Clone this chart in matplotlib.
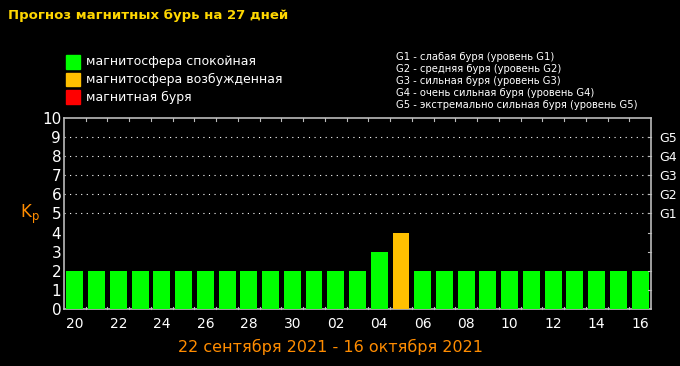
import matplotlib
matplotlib.use("Agg")
import matplotlib.pyplot as plt
import numpy as np

# data
days = ["20", "21", "22", "23", "24", "25", "26", "27", "28", "29", "30",
        "01", "02", "03", "04", "05", "06", "07", "08", "09", "10",
        "11", "12", "13", "14", "15", "16"]
kp = [2, 2, 2, 2, 2, 2, 2, 2, 2, 2, 2, 2, 2, 2, 3, 4,
      2, 2, 2, 2, 2, 2, 2, 2, 2, 2, 2]
levels = ["G1", "G2", "G3", "G4", "G5"]
level_kp = [5, 6, 7, 8, 9]
legend_left = ["магнитосфера спокойная", "магнитосфера возбужденная", "магнитная буря"]
legend_right = ["G1 - слабая буря (уровень G1)",
                "G2 - средняя буря (уровень G2)",
                "G3 - сильная буря (уровень G3)",
                "G4 - очень сильная буря (уровень G4)",
                "G5 - экстремально сильная буря (уровень G5)"]

GREEN = "#00ff00"
ORANGE = "#ffc000"
RED = "#ff0000"

def bar_color(v):
    if v >= 5:
        return RED
    if v >= 4:
        return ORANGE
    return GREEN

plt.rcParams['font.family'] = ['DejaVu Sans']
plt.rcParams['mathtext.fontset'] = 'dejavusans'

fig = plt.figure(figsize=(6.8, 3.66), dpi=100, facecolor="black")
ax = fig.add_axes([64 / 680, 57 / 366, 587 / 680, 191 / 366], facecolor="black")

x = np.arange(len(days))
ax.bar(x, kp, width=0.78, color=[bar_color(v) for v in kp], zorder=3)

ax.set_xlim(-0.5, len(days) - 0.5)
ax.set_ylim(0, 10)

# dotted grid at storm levels
for y in level_kp:
    ax.axhline(y, color="white", linestyle=(0, (1, 4)), linewidth=0.8, zorder=1)

for s in ax.spines.values():
    s.set_color("#bbbbbb")
    s.set_linewidth(1.2)

ax.set_yticks(range(0, 11))
ax.set_yticklabels([str(i) for i in range(0, 11)])
ax.tick_params(axis="y", colors="white", labelsize=11, length=0, pad=2)

ax.set_xticks(x[::2])
ax.set_xticklabels(days[::2])
ax.tick_params(axis="x", colors="white", labelsize=10, length=0, pad=6)

# small ticks between bars, top and bottom
for b in np.arange(0.5, len(days) - 1, 1.0):
    ax.plot([b, b], [0, 0.12], color="#bbbbbb", lw=0.8, zorder=4, clip_on=False)
    ax.plot([b, b], [10, 9.85], color="#bbbbbb", lw=0.8, zorder=4, clip_on=False)

# right-side ticks and G levels
ax2 = ax.twinx()
ax2.set_ylim(0, 10)
ax2.set_yticks(level_kp)
ax2.set_yticklabels(levels)
ax2.tick_params(axis="y", colors="#bbbbbb", labelcolor="white", labelsize=9,
                length=0, pad=6)
for s in ax2.spines.values():
    s.set_visible(False)
for y in range(1, 10):
    ax.plot([len(days) - 0.5, len(days) - 0.62], [y, y], color="#bbbbbb",
            lw=0.8, zorder=4, clip_on=False)

fig.text(30 / 680, 1 - 214 / 366, r"K$_\mathregular{p}$", color="#ff8c00",
         fontsize=12, ha="center", va="center")

fig.text(8 / 680, 1 - 16 / 366, "Прогноз магнитных бурь на 27 дней",
         color="#ffd700", fontsize=9.5, fontweight="bold", va="center")

cols = [GREEN, ORANGE, RED]
for i, (t, c) in enumerate(zip(legend_left, cols)):
    yy = 1 - (62 + i * 17.5) / 366
    fig.patches.append(plt.Rectangle((66 / 680, yy - 6.5 / 366), 14 / 680, 13 / 366,
                                     transform=fig.transFigure, color=c, figure=fig))
    fig.text(86 / 680, yy, t, color="white", fontsize=9, va="center")

for i, t in enumerate(legend_right):
    yy = 1 - (57 + i * 12) / 366
    fig.text(396 / 680, yy, t, color="white", fontsize=7.2, va="center")

fig.text(330 / 680, 1 - 347 / 366, "22 сентября 2021 - 16 октября 2021",
         color="#ff8c00", fontsize=11.5, ha="center", va="center")

fig.savefig("out.png", dpi=100, facecolor="black")
